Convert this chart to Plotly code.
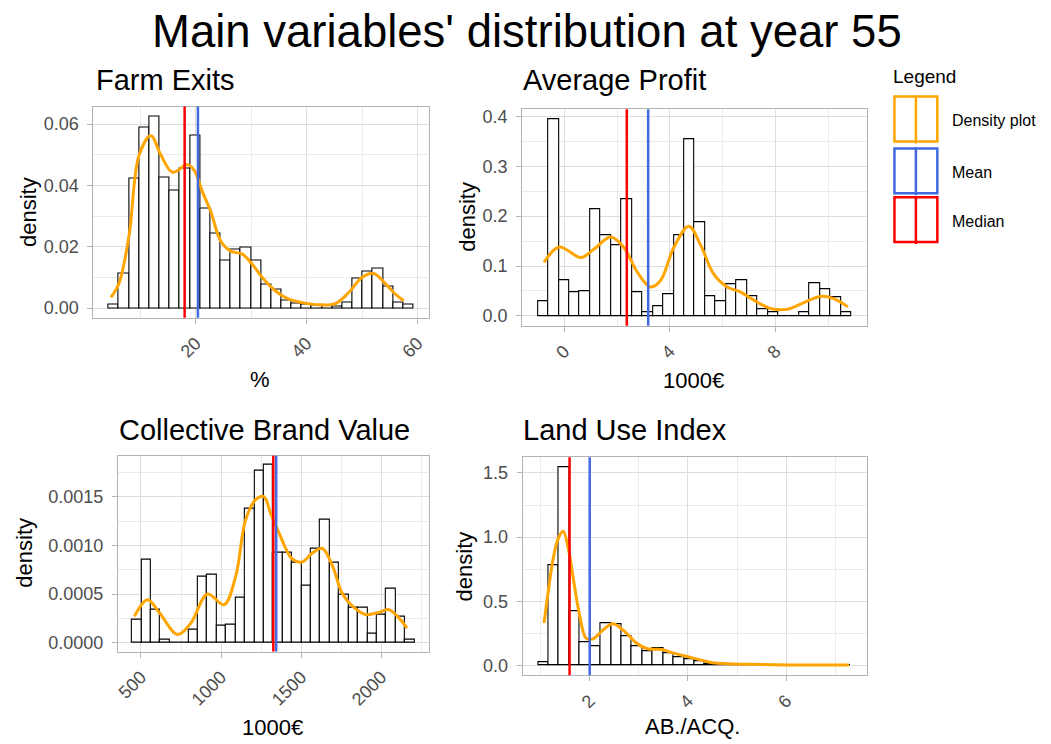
import plotly.graph_objects as go

FONT = "Liberation Sans, Arial, sans-serif"
W, H = 1051, 744

# ---------------- data ----------------
# Farm Exits (%)
fe_bin_start = 4.3
fe_bin_width = 1.833
fe_hist = [0.0011, 0.0113, 0.0421, 0.0589, 0.0626, 0.0427, 0.0385, 0.0454, 0.0563, 0.0325,
           0.0243, 0.0156, 0.0190, 0.0196, 0.0156, 0.0076, 0.0059, 0.0024, 0.0015, 0.0010,
           0.0009, 0.0009, 0.0005, 0.0018, 0.0098, 0.0118, 0.0130, 0.0070, 0.0018, 0.0010]
fe_kde_x = [4.7, 6.2, 8.0, 9.8, 11.9, 13.7, 15.8, 18.5, 19.7, 21.2, 22.7, 24.5, 26.3, 28.4,
            30.2, 32.0, 34.4, 36.8, 39.2, 42.2, 45.2, 47.6, 50.0, 52.1, 54.2, 56.0, 57.5]
fe_kde_y = [0.0035, 0.0083, 0.0240, 0.0500, 0.0562, 0.0500, 0.0443, 0.0468, 0.0450, 0.0380,
            0.0316, 0.0219, 0.0186, 0.0176, 0.0143, 0.0100, 0.0056, 0.0029, 0.0018, 0.0011,
            0.0015, 0.0051, 0.0100, 0.0113, 0.0080, 0.0046, 0.0024]
fe_mean, fe_median = 20.4, 18.0

# Average Profit (1000€)
ap_bin_start = -1.0
ap_bin_width = 0.396
ap_hist = [0.030, 0.395, 0.072, 0.047, 0.050, 0.214, 0.161, 0.141, 0.234, 0.047,
           0.008, 0.020, 0.043, 0.162, 0.355, 0.1875, 0.040, 0.030, 0.063, 0.072,
           0.040, 0.013, 0.008, 0.0, 0.0, 0.008, 0.066, 0.053, 0.037, 0.008]
ap_kde_x = [-0.77, -0.19, 0.63, 1.13, 1.76, 2.26, 2.77, 3.27, 3.65, 4.15, 4.72, 5.16, 5.66,
            6.17, 6.67, 7.17, 7.80, 8.43, 9.06, 9.69, 10.19, 10.75]
ap_kde_y = [0.107, 0.138, 0.117, 0.134, 0.158, 0.137, 0.0875, 0.058, 0.071, 0.137, 0.180,
            0.143, 0.084, 0.058, 0.048, 0.032, 0.015, 0.013, 0.026, 0.039, 0.035, 0.018]
ap_mean, ap_median = 3.18, 2.37

# Collective Brand Value (1000€)
cb_bin_start = 444.0
cb_bin_width = 58.77
cb_hist = [0.00024, 0.00085, 0.00034, 0.00003, 0.0, 0.0, 0.000137, 0.00068, 0.00070, 0.00017,
           0.00019, 0.00046, 0.00138, 0.00177, 0.00183, 0.00092, 0.00092, 0.00082, 0.00059, 0.00097,
           0.00126, 0.00082, 0.00049, 0.00036, 0.00036, 0.00009, 0.00029, 0.00055, 0.00027, 0.00003]
cb_kde_x = [459, 541, 614, 728, 811, 915, 1018, 1091, 1153, 1216, 1267, 1309, 1361, 1444,
            1506, 1568, 1631, 1693, 1755, 1817, 1900, 1983, 2045, 2107, 2160]
cb_kde_y = [0.00027, 0.00044, 0.00031, 0.000085, 0.00020, 0.00050, 0.00039, 0.00068, 0.00126,
            0.00147, 0.00150, 0.00133, 0.00113, 0.00086, 0.00083, 0.00092, 0.00097, 0.00080,
            0.00051, 0.00038, 0.00029, 0.00031, 0.00034, 0.00026, 0.00015]
cb_mean, cb_median = 1344.0, 1326.0

# Land Use Index (AB./ACQ.)
lu_bin_start = 0.95
lu_bin_width = 0.2123
lu_hist = [0.026, 0.78, 1.546, 0.42, 0.18, 0.15, 0.33, 0.325, 0.227, 0.15,
           0.11, 0.137, 0.093, 0.067, 0.046, 0.036, 0.013, 0.008, 0.005, 0.004,
           0.0, 0.0, 0.0, 0.0, 0.0, 0.0, 0.0, 0.0, 0.0, 0.003]
lu_kde_x = [1.07, 1.15, 1.25, 1.36, 1.46, 1.56, 1.66, 1.80, 1.93, 2.07, 2.24, 2.47, 2.71, 2.95,
            3.18, 3.46, 3.73, 4.00, 4.27, 4.51, 4.81, 5.22, 6.03, 7.28]
lu_kde_y = [0.33, 0.56, 0.82, 0.99, 1.046, 0.92, 0.69, 0.38, 0.21, 0.206, 0.265, 0.325, 0.265,
            0.175, 0.129, 0.124, 0.093, 0.067, 0.041, 0.020, 0.013, 0.008, 0.003, 0.002]
lu_mean, lu_median = 2.0, 1.59

titles = ["Farm Exits", "Average Profit", "Collective Brand Value", "Land Use Index"]
x_titles = ["%", "1000€", "1000€", "AB./ACQ."]
main_title = "Main variables' distribution at year 55"
legend_labels = ["Density plot", "Mean", "Median"]

# ---------------- styling / layout ----------------
C_DENS, C_MEAN, C_MED = "#FFA500", "#4169E1", "#FF0000"
GRID, MINOR, BORDER, TICKTXT = "#DEDEDE", "#EBEBEB", "#B3B3B3", "#4D4D4D"

panels = [
    dict(start=fe_bin_start, width=fe_bin_width, hist=fe_hist, kx=fe_kde_x, ky=fe_kde_y,
         mean=fe_mean, median=fe_median, px=(90.7, 427.0), py=(105.0, 317.0),
         xdt=20, xt0=0, ydt=0.02, yfmt=".2f", xfmt="",
         title_pos=(91, 78), ytitle_pos=(25, 211), xtitle_pos=(258, 379)),
    dict(start=ap_bin_start, width=ap_bin_width, hist=ap_hist, kx=ap_kde_x, ky=ap_kde_y,
         mean=ap_mean, median=ap_median, px=(520.7, 866.5), py=(107.6, 325.0),
         xdt=4, xt0=0, ydt=0.1, yfmt=".1f", xfmt="",
         title_pos=(519, 78), ytitle_pos=(465, 216), xtitle_pos=(692, 380)),
    dict(start=cb_bin_start, width=cb_bin_width, hist=cb_hist, kx=cb_kde_x, ky=cb_kde_y,
         mean=cb_mean, median=cb_median, px=(115.2, 426.8), py=(455.5, 652.2),
         xdt=500, xt0=0, ydt=0.0005, yfmt=".4f", xfmt="d",
         title_pos=(114, 430), ytitle_pos=(22, 553), xtitle_pos=(270, 728)),
    dict(start=lu_bin_start, width=lu_bin_width, hist=lu_hist, kx=lu_kde_x, ky=lu_kde_y,
         mean=lu_mean, median=lu_median, px=(521.0, 866.0), py=(457.0, 676.0),
         xdt=2, xt0=0, ydt=0.5, yfmt=".1f", xfmt="",
         title_pos=(519, 430), ytitle_pos=(463, 567), xtitle_pos=(691, 727)),
]

fig = go.Figure()
layout = dict(width=W, height=H, margin=dict(l=0, r=0, t=0, b=0),
              paper_bgcolor="white", plot_bgcolor="white", showlegend=False,
              font=dict(family=FONT, color="black"), bargap=0)
shapes = []
annotations = []

for i, p in enumerate(panels):
    n = i + 1
    xa = "x" if n == 1 else f"x{n}"
    ya = "y" if n == 1 else f"y{n}"
    xkey = "xaxis" if n == 1 else f"xaxis{n}"
    ykey = "yaxis" if n == 1 else f"yaxis{n}"
    nb = len(p["hist"])
    centers = [p["start"] + (k + 0.5) * p["width"] for k in range(nb)]
    xmin = min(p["start"], min(p["kx"]))
    xmax = max(p["start"] + nb * p["width"], max(p["kx"]))
    xr = xmax - xmin
    ymax = max(max(p["hist"]), max(p["ky"]))

    fig.add_trace(go.Bar(x=centers, y=p["hist"], width=[p["width"]] * nb,
                         marker=dict(color="white", line=dict(color="black", width=1.1)),
                         xaxis=xa, yaxis=ya, hoverinfo="skip"))
    fig.add_trace(go.Scatter(x=p["kx"], y=p["ky"], mode="lines",
                             line=dict(color=C_DENS, width=3, shape="spline", smoothing=1.0),
                             xaxis=xa, yaxis=ya, hoverinfo="skip"))

    layout[xkey] = dict(domain=[p["px"][0] / W, p["px"][1] / W],
                        range=[xmin - 0.05 * xr, xmax + 0.05 * xr], anchor=ya,
                        showgrid=True, gridcolor=GRID, gridwidth=1,
                        tick0=p["xt0"], dtick=p["xdt"], tickformat=p["xfmt"],
                        minor=dict(dtick=p["xdt"] / 2, showgrid=True, gridcolor=MINOR,
                                   gridwidth=1, ticks=""),
                        ticks="outside", ticklen=5, tickwidth=1, tickcolor=BORDER,
                        tickangle=-45, tickfont=dict(size=18, color=TICKTXT, family=FONT),
                        ticklabelstandoff=2,
                        showline=True, linecolor=BORDER, linewidth=1, mirror=True,
                        zeroline=False)
    layout[ykey] = dict(domain=[1 - p["py"][1] / H, 1 - p["py"][0] / H],
                        range=[-0.05 * ymax, 1.05 * ymax], anchor=xa,
                        showgrid=True, gridcolor=GRID, gridwidth=1,
                        tick0=0, dtick=p["ydt"], tickformat=p["yfmt"],
                        minor=dict(dtick=p["ydt"] / 2, showgrid=True, gridcolor=MINOR,
                                   gridwidth=1, ticks=""),
                        ticks="outside", ticklen=5, tickwidth=1, tickcolor=BORDER,
                        tickfont=dict(size=18, color=TICKTXT, family=FONT),
                        ticklabelstandoff=5,
                        showline=True, linecolor=BORDER, linewidth=1, mirror=True,
                        zeroline=False)

    for val, col in ((p["mean"], C_MEAN), (p["median"], C_MED)):
        shapes.append(dict(type="line", xref=xa, yref=f"{ya} domain", x0=val, x1=val,
                           y0=0, y1=1, line=dict(color=col, width=2.5), layer="above"))

    tx, ty = p["title_pos"]
    annotations.append(dict(text=titles[i], x=tx / W, y=1 - ty / H,
                            xref="paper", yref="paper", xanchor="left", yanchor="middle",
                            showarrow=False, font=dict(size=29, family=FONT, color="black")))
    yx, yy = p["ytitle_pos"]
    annotations.append(dict(text="density", x=yx / W, y=1 - yy / H,
                            xref="paper", yref="paper", xanchor="center", yanchor="middle",
                            textangle=-90, showarrow=False,
                            font=dict(size=22, family=FONT, color="black")))
    xx, xy = p["xtitle_pos"]
    annotations.append(dict(text=x_titles[i], x=xx / W, y=1 - xy / H,
                            xref="paper", yref="paper", xanchor="center", yanchor="middle",
                            showarrow=False, font=dict(size=22, family=FONT, color="black")))

# main title
annotations.append(dict(text=main_title, x=526 / W, y=1 - 30 / H, xref="paper", yref="paper",
                        xanchor="center", yanchor="middle", showarrow=False,
                        font=dict(size=45.5, family=FONT, color="black")))

# custom legend
annotations.append(dict(text="Legend", x=891 / W, y=1 - 75 / H, xref="paper", yref="paper",
                        xanchor="left", yanchor="middle", showarrow=False,
                        font=dict(size=19, family=FONT, color="black")))
key_cols = [C_DENS, C_MEAN, C_MED]
key_tops = [95, 147, 196]
for lab, col, top in zip(legend_labels, key_cols, key_tops):
    bot = top + 45
    shapes.append(dict(type="rect", xref="paper", yref="paper", x0=894 / W, x1=937 / W,
                       y0=1 - bot / H, y1=1 - top / H, line=dict(color=col, width=2.5),
                       fillcolor="rgba(0,0,0,0)"))
    shapes.append(dict(type="line", xref="paper", yref="paper", x0=915.5 / W, x1=915.5 / W,
                       y0=1 - (bot + 2) / H, y1=1 - (top - 1) / H, line=dict(color=col, width=2.5)))
    annotations.append(dict(text=lab, x=950 / W, y=1 - (top + 24) / H, xref="paper",
                            yref="paper", xanchor="left", yanchor="middle", showarrow=False,
                            font=dict(size=16, family=FONT, color="black")))

layout["shapes"] = shapes
layout["annotations"] = annotations
fig.update_layout(**layout)
fig.write_html("out.html")
